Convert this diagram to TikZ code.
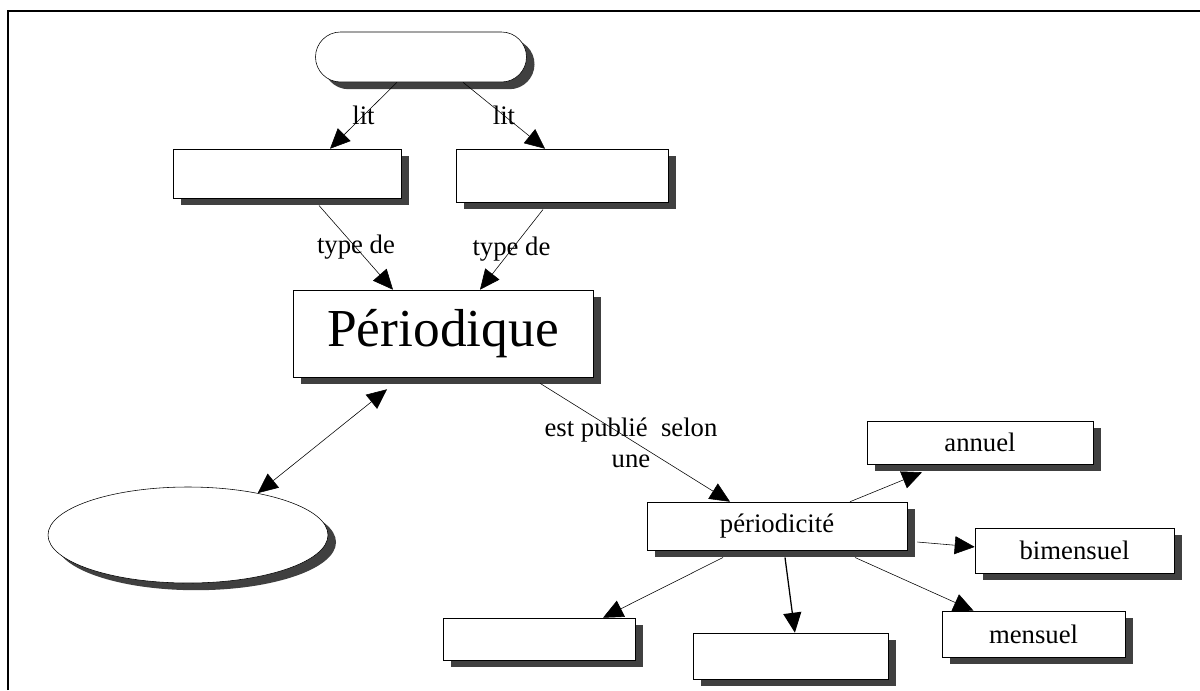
\documentclass[tikz,border=0pt]{standalone}
\usepackage{fontspec}
\setmainfont{Liberation Serif}
\usetikzlibrary{arrows.meta, shapes.geometric, shadows}

\begin{document}
\begin{tikzpicture}[->, >={Triangle[length=0.5cm, width=0.45cm]}, font=\fontsize{19}{22}\selectfont,
	concept/.style={draw, fill=white, inner sep=0pt, drop shadow={shadow xshift=0.2cm, shadow yshift=-0.18cm, fill=black!75, opacity=1}},
	]
			\useasboundingbox (0, 0) rectangle (30, -17.25);
			\draw[-, line width=1.4pt] (0.2, -17.25) -- (0.2, -0.275) -- (30, -0.275);

			\node[concept, rounded corners=0.625cm, minimum width=5.275cm, minimum height=1.25cm] at (10.525, -1.425) (sujet) {};
			\node[concept, minimum width=5.7cm, minimum height=1.225cm] at (7.175, -4.3375) (typeA) {};
			\node[concept, minimum width=5.3cm, minimum height=1.325cm] at (14.05, -4.3875) (typeB) {};
			\node[concept, minimum width=7.5cm, minimum height=2.175cm, font=\fontsize{38}{44}\selectfont] at (11.075, -8.3375) (periodique) {Périodique};
			\node[concept, ellipse, minimum width=7cm, minimum height=2.4cm] at (4.7, -13.375) (ovale) {};
			\node[concept, minimum width=6.5cm, minimum height=1.2cm] at (19.425, -13.15) (periodicite) {périodicité};
			\node[concept, minimum width=5.65cm, minimum height=1.075cm] at (24.5, -11.0625) (annuel) {annuel};
			\node[concept, minimum width=4.975cm, minimum height=1.125cm] at (26.8625, -13.7625) (bimensuel) {bimensuel};
			\node[concept, minimum width=4.575cm, minimum height=1.15cm] at (25.8375, -15.85) (mensuel) {mensuel};
			\node[concept, minimum width=4.8cm, minimum height=1.05cm] at (13.475, -15.975) (freqA) {};
			\node[concept, minimum width=4.875cm, minimum height=1.15cm] at (19.7625, -16.4) (freqB) {};

			\path
					([xshift=-0.6cm]sujet.south)		edge	node{lit}		([xshift=1.075cm]typeA.north)
					([xshift=1.05cm]sujet.south)		edge	node{lit}		([xshift=-0.425cm]typeB.north)
					([xshift=0.8cm, yshift=-0.18cm]typeA.south)	edge	node{type de}	([xshift=-1.25cm]periodique.north)
					([xshift=-0.475cm, yshift=-0.18cm]typeB.south)	edge	node{type de}	([xshift=0.925cm]periodique.north)
					([xshift=-1.4cm, yshift=-0.3cm]periodique.south)	edge[<->]		(ovale.31)
					([xshift=2.425cm, yshift=-0.15cm]periodique.south)	edge	node[pos=0.5, xshift=-0.1cm, align=center]{est publié\ \ selon\\une}	([xshift=-1.175cm]periodicite.north)
					([xshift=1.825cm]periodicite.north)		edge		([xshift=-1.45cm, yshift=-0.2cm]annuel.south)
					([xshift=0.25cm, yshift=-0.4cm]periodicite.east)	edge		([yshift=0.09cm]bimensuel.west)
					([xshift=1.95cm, yshift=-0.18cm]periodicite.south)	edge		([xshift=-1.5cm]mensuel.north)
					([xshift=-1.35cm, yshift=-0.18cm]periodicite.south)	edge		([xshift=1.6cm]freqA.north)
					([xshift=0.2cm, yshift=-0.18cm]periodicite.south)	edge[line width=0.9pt]		([xshift=0.11cm]freqB.north)
					;

		\end{tikzpicture}
\end{document}
